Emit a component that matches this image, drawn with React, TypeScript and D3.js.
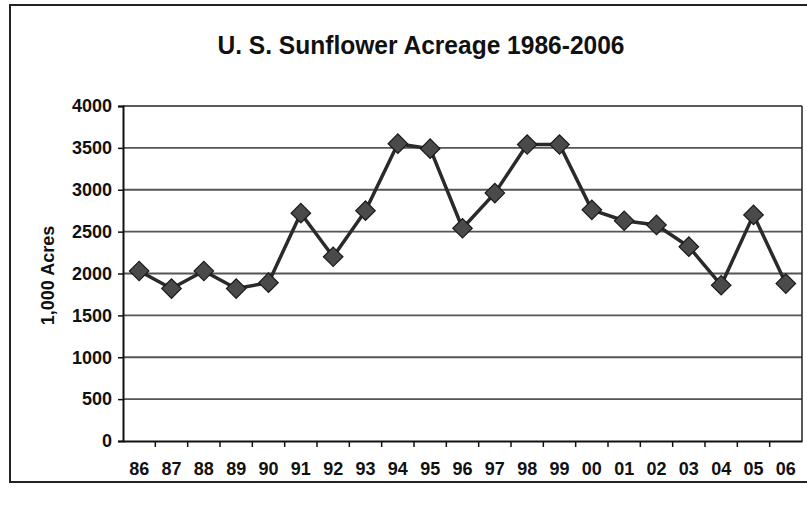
import React, { useEffect, useRef } from 'react';
import * as d3 from 'd3';

// values (thousand acres)
const years = ['86', '87', '88', '89', '90', '91', '92', '93', '94', '95', '96', '97', '98', '99', '00', '01', '02', '03', '04', '05', '06'];
const acres = [2030, 1820, 2030, 1820, 1890, 2720, 2200, 2750, 3550, 3490, 2540, 2960, 3540, 3540, 2760, 2630, 2580, 2320, 1860, 2700, 1880];
const yTicks = [0, 500, 1000, 1500, 2000, 2500, 3000, 3500, 4000];

const FONT = "'Liberation Sans', Arial, sans-serif";

export default function App() {
  const ref = useRef<SVGSVGElement>(null);

  useEffect(() => {
    const width = 807, height = 513;
    const margin = { top: 106, right: 5, bottom: 72, left: 123 };

    const svg = d3.select(ref.current);
    svg.selectAll('*').remove();

    svg.append('rect').attr('width', width).attr('height', height).attr('fill', '#fff');

    // outer chart frame
    svg.append('rect')
      .attr('x', 10).attr('y', 5)
      .attr('width', width + 10).attr('height', 477)
      .attr('fill', 'none').attr('stroke', '#222').attr('stroke-width', 2);

    const x = d3.scaleBand<string>()
      .domain(years)
      .range([margin.left, width - margin.right]);

    const y = d3.scaleLinear()
      .domain([0, 4000])
      .range([height - margin.bottom, margin.top]);

    // gridlines
    svg.append('g')
      .selectAll('line')
      .data(yTicks.filter(d => d > 0 && d < 4000))
      .join('line')
      .attr('x1', margin.left).attr('x2', width - margin.right)
      .attr('y1', d => y(d)).attr('y2', d => y(d))
      .attr('stroke', '#555').attr('stroke-width', 1.8);

    // plot box: top and right
    svg.append('line')
      .attr('x1', margin.left).attr('x2', width - margin.right)
      .attr('y1', y(4000)).attr('y2', y(4000))
      .attr('stroke', '#222').attr('stroke-width', 1.5);
    svg.append('line')
      .attr('x1', width - margin.right).attr('x2', width - margin.right)
      .attr('y1', y(4000)).attr('y2', y(0))
      .attr('stroke', '#222').attr('stroke-width', 1.5);

    // y axis
    const yAxis = svg.append('g')
      .attr('transform', `translate(${margin.left},0)`)
      .call(d3.axisLeft(y).tickValues(yTicks).tickSize(5).tickPadding(6).tickFormat(d3.format('d')));
    yAxis.select('.domain').attr('stroke', '#111').attr('stroke-width', 2);
    yAxis.selectAll('.tick line').attr('stroke', '#111').attr('stroke-width', 1.5);
    yAxis.selectAll('.tick text')
      .attr('font-family', FONT).attr('font-size', 18).attr('font-weight', 'bold').attr('fill', '#111');

    // x axis with ticks between categories
    const xAxis = svg.append('g')
      .attr('transform', `translate(0,${y(0)})`)
      .call(d3.axisBottom(x).tickSize(0).tickPadding(21));
    xAxis.select('.domain').attr('stroke', '#111').attr('stroke-width', 2);
    xAxis.selectAll('.tick text')
      .attr('font-family', FONT).attr('font-size', 18).attr('font-weight', 'bold').attr('fill', '#111');
    xAxis.selectAll('.sep')
      .data(years.slice(1))
      .join('line')
      .attr('class', 'sep')
      .attr('x1', d => x(d)!).attr('x2', d => x(d)!)
      .attr('y1', 0).attr('y2', 6)
      .attr('stroke', '#111').attr('stroke-width', 1.5);

    // y axis title
    svg.append('text')
      .attr('transform', `translate(54,${(y(0) + y(4000)) / 2 + 2}) rotate(-90)`)
      .attr('text-anchor', 'middle')
      .attr('font-family', FONT).attr('font-size', 18).attr('font-weight', 'bold').attr('fill', '#111')
      .text('1,000 Acres');

    // title, condensed to match the narrow face of the original
    svg.append('text')
      .attr('x', 421).attr('y', 54)
      .attr('text-anchor', 'middle')
      .attr('textLength', 407).attr('lengthAdjust', 'spacingAndGlyphs')
      .attr('font-family', FONT).attr('font-size', 26).attr('font-weight', 'bold').attr('fill', '#111')
      .text('U. S. Sunflower Acreage 1986-2006');

    const cx = (d: string) => x(d)! + x.bandwidth() / 2;

    // line
    svg.append('path')
      .datum(acres)
      .attr('fill', 'none')
      .attr('stroke', '#2a2a2a')
      .attr('stroke-width', 3.5)
      .attr('stroke-linejoin', 'round')
      .attr('d', d3.line<number>()
        .x((d, i) => cx(years[i]))
        .y(d => y(d)));

    // diamond markers
    const diamond = d3.symbol().type(d3.symbolSquare).size(190);
    svg.append('g')
      .selectAll('path')
      .data(acres)
      .join('path')
      .attr('d', diamond)
      .attr('transform', (d, i) => `translate(${cx(years[i])},${y(d)}) rotate(45)`)
      .attr('fill', '#4a4a4a')
      .attr('stroke', '#1a1a1a')
      .attr('stroke-width', 1.2);
  }, []);

  return (
    <svg ref={ref} width={807} height={513}
      style={{ position: 'absolute', left: 0, top: 0, display: 'block' }} />
  );
}
